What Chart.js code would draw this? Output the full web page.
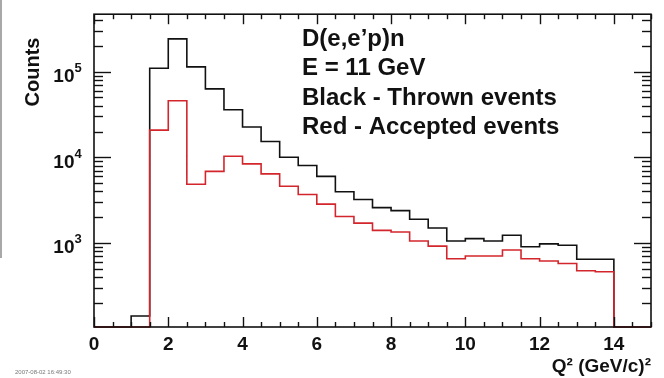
<!DOCTYPE html>
<html><head><meta charset="utf-8">
<script src="https://cdn.jsdelivr.net/npm/chart.js@4"></script>
<style>
html,body{margin:0;padding:0;background:#fff;overflow:hidden}
#wrap{position:relative;width:664px;height:378px;background:#fff}
#edge{position:absolute;left:0;top:0;width:2px;height:258px;background:#a8a8a8}
</style></head><body>
<div id="wrap"><canvas id="c" width="664" height="378"></canvas><div id="edge"></div></div>
<script>
// ---- data ----
const binEdges = [0,0.5,1,1.5,2,2.5,3,3.5,4,4.5,5,5.5,6,6.5,7,7.5,8,8.5,9,9.5,10,10.5,11,11.5,12,12.5,13,13.5,14,14.5];
const xUpper = 15;
const thrown = [0,0,140,110000,242000,114000,63000,36000,22600,15300,10000,8020,5980,3950,3210,2580,2380,1890,1490,1050,1120,1050,1230,900,973,940,643,643,0,0];
const accepted = [0,0,0,20800,45800,4840,6840,10300,8380,6410,4590,3670,2840,2030,1700,1400,1340,1050,917,653,703,703,825,653,615,573,472,459,0,0];
const xTickValues = [0,2,4,6,8,10,12,14];
const yTickValues = [1e3,1e4,1e5];
const yTickBase = '10';
const yTickExp = ['3','4','5'];
const noteLines = ['D(e,e\u2019p)n','E = 11 GeV','Black - Thrown events','Red - Accepted events'];
const xTitle = 'Q\u00B2 (GeV/c)\u00B2';
const yTitle = 'Counts';
const stamp = '2007-08-02 16:49:30';
const Y_MIN = 104, Y_MAX = 470000;

const FONT = "'Liberation Sans', Arial, sans-serif";
const INK = '#111';

function steps(vals){
  const pts = binEdges.map((e,i)=>({x:e, y: vals[i] > 0 ? vals[i] : Y_MIN}));
  pts.push({x:xUpper, y: pts[pts.length-1].y});
  return pts;
}

const framePlugin = {
  id:'rootFrame',
  afterDatasetsDraw(chart){
    const {ctx, chartArea:{left,right,top,bottom}, scales:{x,y}} = chart;
    ctx.save();
    ctx.strokeStyle = INK; ctx.lineWidth = 1.4; ctx.lineCap='butt';
    const line=(a,b,c,d)=>{ctx.beginPath();ctx.moveTo(a,b);ctx.lineTo(c,d);ctx.stroke();};
    for(let k=0;k<=xUpper*2;k++){
      const v=k/2, px=Math.round(x.getPixelForValue(v))+0.5;
      const L = xTickValues.includes(v) ? 10 : 5;
      line(px,bottom,px,bottom-L); line(px,top,px,top+L);
    }
    y.ticks.forEach(t=>{
      const py=Math.round(y.getPixelForValue(t.value))+0.5;
      if(py<top-0.5||py>bottom+0.5) return;
      const major = yTickValues.some(v=>Math.abs(v-t.value)<1e-6*v);
      const L = major ? 17 : 9;
      line(left,py,left+L,py); line(right,py,right-L,py);
    });
    ctx.lineWidth = 1.6;
    ctx.strokeRect(left, top, right-left, bottom-top);
    ctx.restore();
  },
  afterDraw(chart){
    const ctx = chart.ctx, y = chart.scales.y;
    ctx.save();
    ctx.fillStyle = INK;
    // y tick labels with raised exponents
    yTickValues.forEach((v,i)=>{
      const py = y.getPixelForValue(v);
      ctx.font = "bold 19px " + FONT; ctx.textAlign='right'; ctx.textBaseline='alphabetic';
      ctx.fillText(yTickBase, 74.5, py+10.5);
      ctx.font = "bold 13px " + FONT; ctx.textAlign='left';
      ctx.fillText(yTickExp[i], 74.5, py+0.5);
    });
    // text box
    ctx.font = "bold 24px " + FONT;
    ctx.textAlign='left'; ctx.textBaseline='middle';
    const ly=[39,68.5,98,127.5];
    noteLines.forEach((s,i)=>ctx.fillText(s,302,ly[i]));
    // y title
    ctx.translate(33,72); ctx.rotate(-Math.PI/2);
    ctx.font = "bold 20px " + FONT; ctx.textAlign='center';
    ctx.fillText(yTitle,0,0);
    ctx.restore();
    ctx.save();
    ctx.fillStyle='#777'; ctx.font = "6px " + FONT; ctx.textBaseline='middle';
    ctx.fillText(stamp,15,372);
    ctx.restore();
  }
};

new Chart(document.getElementById('c'),{
  type:'line',
  data:{datasets:[
    {label:'Accepted events', data:steps(accepted), borderColor:'#d3262c', borderWidth:1.6, stepped:true, pointRadius:0, fill:false, order:0, clip:3},
    {label:'Thrown events', data:steps(thrown), borderColor:'#111', borderWidth:1.6, stepped:true, pointRadius:0, fill:false, order:1, clip:3}
  ]},
  options:{
    responsive:false, animation:false, devicePixelRatio:1,
    layout:{padding:{top:10,right:13,left:0,bottom:0}},
    plugins:{legend:{display:false}, tooltip:{enabled:false}},
    scales:{
      x:{type:'linear', min:0, max:xUpper,
        grid:{display:false, drawTicks:false}, border:{display:false},
        afterBuildTicks:s=>{s.ticks = xTickValues.map(v=>({value:v}));},
        afterFit:s=>{s.height=51;},
        ticks:{padding:6, autoSkip:false, maxRotation:0, color:INK, font:{family:FONT,size:19,weight:'bold'}},
        title:{display:true, text:xTitle, align:'end', color:INK, font:{family:FONT,size:19,weight:'bold'}, padding:{top:0,bottom:0}}
      },
      y:{type:'logarithmic', min:Y_MIN, max:Y_MAX,
        grid:{display:false, drawTicks:false}, border:{display:false},
        afterBuildTicks:s=>{
          s.ticks = s.ticks.filter(t=>{
            const e=Math.floor(Math.log10(t.value)+1e-9); const m=t.value/Math.pow(10,e);
            return Math.abs(m-Math.round(m))<1e-6;
          });
        },
        afterFit:s=>{s.width=94;},
        ticks:{autoSkip:false, padding:7, display:true, callback:()=>''}
      }
    }
  },
  plugins:[framePlugin]
});
</script>
</body></html>
